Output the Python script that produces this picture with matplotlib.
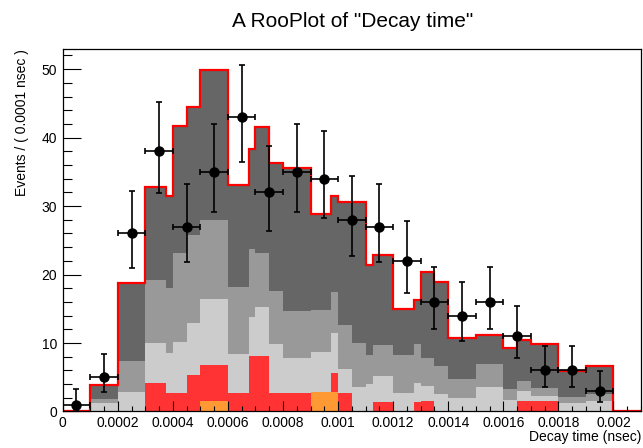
import numpy as np
import matplotlib
matplotlib.use("Agg")
import matplotlib.pyplot as plt
from matplotlib.ticker import MultipleLocator, FuncFormatter

plt.rcParams['font.family'] = ['Liberation Sans', 'DejaVu Sans']

# bin edges of the stacked components (nsec)
edges = [0, 0.0001, 0.0002, 0.0003, 0.000375, 0.0004, 0.00045, 0.0005, 0.0006,
         0.000675, 0.0007, 0.00075, 0.0008, 0.0009, 0.000975, 0.001, 0.00105,
         0.0011, 0.001125, 0.0012, 0.001275, 0.0013, 0.00135, 0.0014, 0.0015,
         0.0016, 0.00165, 0.0017, 0.0018, 0.0019, 0.002, 0.0021]

# stacked components, bottom to top
comp_orange = [0, 0, 0, 0, 0, 0, 0, 1.5, 0, 0, 0, 0, 0, 2.9, 2.9, 0,
               0, 0, 0, 0, 0, 0, 0, 0, 0, 0, 0, 0, 0, 0, 0]
comp_red = [0, 0, 0, 4.1, 2.75, 2.75, 5.3, 5.3, 2.75, 8.15, 8.15, 2.75, 2.75, 0, 2.65, 2.75,
            0, 0, 1.45, 0, 1.45, 1.5, 0, 0, 0, 0, 1.5, 1.5, 0, 0, 0]
comp_light = [0, 1.2, 2.9, 5.9, 5.85, 7.35, 7.6, 9.7, 5.65, 5.65, 7.15, 7.05, 5.1, 5.8, 5.85, 3.45,
              3.6, 4.0, 3.75, 2.75, 2.65, 2.25, 2.6, 1.9, 3.6, 1.7, 1.55, 0.75, 1.3, 1.55, 0]
comp_mid = [0, 0.6, 4.5, 9.2, 9.4, 13.1, 12.9, 11.4, 9.8, 10.0, 7.8, 7.8, 6.85, 6.1, 6.0, 6.4,
            6.35, 4.25, 4.5, 5.5, 5.7, 4.05, 4.05, 2.8, 3.35, 1.55, 1.45, 1.15, 0.85, 0.95, 0]
comp_dark = [0, 2.1, 11.4, 13.6, 13.4, 18.5, 18.6, 22.0, 14.9, 14.6, 18.5, 18.7, 20.9, 14.0, 14.1, 18.0,
             20.65, 13.15, 13.1, 6.65, 6.5, 12.6, 12.3, 6.0, 4.25, 6.05, 5.9, 6.4, 3.75, 4.2, 0]

# data points
x_data = [0.00005, 0.00015, 0.00025, 0.00035, 0.00045, 0.00055, 0.00065, 0.00075, 0.00085, 0.00095,
          0.00105, 0.00115, 0.00125, 0.00135, 0.00145, 0.00155, 0.00165, 0.00175, 0.00185, 0.00195]
y_data = [1, 5, 26, 38, 27, 35, 43, 32, 35, 34, 28, 27, 22, 16, 14, 16, 11, 6, 6, 3]
err_lo = [0.83, 2.16, 5.06, 6.13, 5.16, 5.89, 6.53, 5.62, 5.89, 5.80,
          5.26, 5.16, 4.65, 3.95, 3.69, 3.95, 3.26, 2.38, 2.38, 1.63]
err_hi = [2.30, 3.38, 6.17, 7.22, 6.24, 6.98, 7.61, 6.72, 6.98, 6.90,
          6.36, 6.24, 5.77, 5.09, 4.84, 5.09, 4.43, 3.60, 3.60, 2.92]
bin_half = 0.00005

layers = [comp_orange, comp_red, comp_light, comp_mid, comp_dark]
colors = ['#ff9933', '#ff3333', '#cccccc', '#999999', '#666666']

fig = plt.figure(figsize=(6.43, 4.48), dpi=100)
ax = fig.add_axes([0.0975, 0.0815, 0.8994, 0.8085])

lower = np.zeros(len(edges) - 1)
for vals, col in zip(layers, colors):
    upper = lower + np.array(vals)
    ax.stairs(upper, edges, baseline=lower, fill=True, color=col, lw=0, zorder=1)
    lower = upper

ax.stairs(lower, edges, baseline=None, color='#ff0000', lw=1.6, zorder=2, clip_on=False)

ax.errorbar(x_data, y_data, xerr=bin_half, yerr=[err_lo, err_hi], fmt='o', color='black',
            markersize=6.5, elinewidth=1.2, capsize=2.3, capthick=1.2, zorder=3)

ax.set_xlim(0, 0.0021)
ax.set_ylim(0, 52.9)
ax.set_axisbelow(False)

ax.xaxis.set_major_locator(MultipleLocator(0.0002))
ax.xaxis.set_minor_locator(MultipleLocator(0.00005))
ax.yaxis.set_major_locator(MultipleLocator(10))
ax.yaxis.set_minor_locator(MultipleLocator(2))
ax.xaxis.set_major_formatter(FuncFormatter(lambda v, p: '%g' % round(v, 6)))

ax.tick_params(axis='both', which='both', direction='in', width=0.8, labelsize=10, colors='black')
ax.tick_params(axis='x', which='major', length=7.2, pad=3)
ax.tick_params(axis='x', which='minor', length=3.6)
ax.tick_params(axis='y', which='major', length=13, pad=4)
ax.tick_params(axis='y', which='minor', length=6.5)
ax.tick_params(top=False, right=False, which='both')
for s in ax.spines.values():
    s.set_linewidth(0.9)

fig.text(0.5485, 1 - 27 / 448, 'A RooPlot of "Decay time"', ha='center', va='baseline', fontsize=15)
fig.text(22 / 643, 0.89, 'Events / ( 0.0001 nsec )', rotation=90, ha='center', va='top', fontsize=10)
fig.text(641 / 643, 1 - 437 / 448, 'Decay time (nsec)', ha='right', va='center', fontsize=10)

fig.savefig('out.png', dpi=100)
